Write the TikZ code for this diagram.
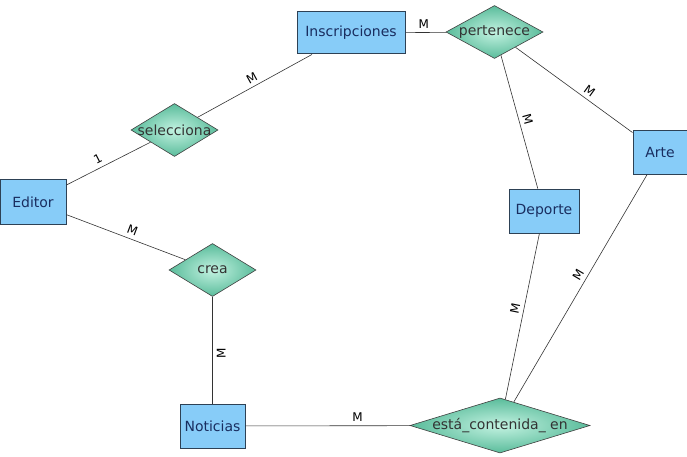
\documentclass[tikz,border=0pt]{standalone}
\usepackage{fontspec}
\setmainfont{DejaVu Sans}
\usetikzlibrary{shapes.geometric}

\definecolor{azul}{RGB}{135,204,248}
\definecolor{bordeazul}{RGB}{45,65,85}
\definecolor{textoazul}{RGB}{25,45,95}
\definecolor{verde}{RGB}{90,188,155}
\definecolor{verdeclaro}{RGB}{195,242,225}

\tikzset{
    entidad/.style={draw=bordeazul, fill=azul, text=textoazul, line width=1pt,
        inner sep=0pt, font=\fontsize{14}{16}\selectfont},
    relacion/.style={diamond, draw=black!75, line width=0.6pt, inner sep=0pt,
        inner color=verdeclaro, outer color=verde, minimum height=53pt,
        label={[font=\fontsize{14}{16}\selectfont, text=black!80]center:#1}},
    card/.style={font=\fontsize{12}{14}\selectfont, sloped, inner sep=4pt},
}

\begin{document}
\begin{tikzpicture}[x=1pt,y=-1pt]
    \useasboundingbox (0,0) rectangle (687,457);
    \begin{scope}[line width=0.6pt, draw=black!80]
    % entities:
    \node [entidad, minimum width=108pt, minimum height=42pt] (inscripciones) at (351,33) {Inscripciones};
    \node [entidad, minimum width=66pt,  minimum height=45pt] (editor)        at (33,202)  {Editor};
    \node [entidad, minimum width=65pt,  minimum height=44pt] (noticias)      at (212.5,426) {Noticias};
    \node [entidad, minimum width=70pt,  minimum height=44pt] (deporte)       at (544,211) {Deporte};
    \node [entidad, minimum width=54pt,  minimum height=43pt] (arte)          at (660,152.5) {Arte};

    % relationships:
    \node [relacion=pertenece,  minimum width=97pt]  (pertenece)  at (494.5,32)  {};
    \node [relacion=selecciona, minimum width=87pt]  (selecciona) at (174.5,130) {};
    \node [relacion=crea,       minimum width=87pt]  (crea)       at (212.5,270) {};
    \node [relacion={está\_contenida\_ en}, minimum width=180pt, minimum height=55pt] (contenida) at (500,425.5) {};

    % connectors with cardinality
    \foreach \a/\b/\c/\p/\s in {editor/selecciona/1/0.42/above,
                                selecciona/inscripciones/M/0.51/above,
                                inscripciones/pertenece/M/0.45/above,
                                pertenece/deporte/M/0.5/above,
                                pertenece/arte/M/0.59/above,
                                editor/crea/M/0.53/above,
                                noticias/crea/M/0.47/below,
                                deporte/contenida/M/0.46/above,
                                arte/contenida/M/0.46/above,
                                noticias/contenida/M/0.68/above}{
        \draw (\a) -- (\b) node [card, pos=\p, \s] {\c};
    }
    \end{scope}
\end{tikzpicture}
\end{document}
